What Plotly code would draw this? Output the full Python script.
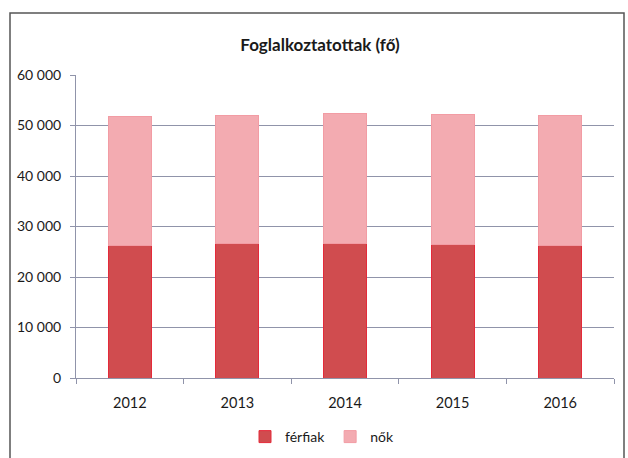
import plotly.graph_objects as go

# Foglalkoztatottak száma nemek szerint (fő)
years = ["2012", "2013", "2014", "2015", "2016"]
ferfiak = [26300, 26700, 26600, 26400, 26300]
nok = [25550, 25350, 25800, 25850, 25600]
y_ticks = [0, 10000, 20000, 30000, 40000, 50000, 60000]

FONT = "Lato, 'Open Sans', sans-serif"
GRID = "#9094aa"

# plot area in pixels (628 x 458 canvas)
W, H = 628, 458
ML, MR, MT, MB = 76, 14, 75, 80
PW, PH = W - ML - MR, H - MT - MB


def px_x(px):
    return (px - ML) / PW


def px_y(py):
    return (H - MB - py) / PH


fig = go.Figure()
fig.add_trace(go.Bar(
    x=years, y=ferfiak, name="férfiak",
    marker=dict(color="#d04c4f", line=dict(color="#e52a3a", width=1)),
))
fig.add_trace(go.Bar(
    x=years, y=nok, name="nők",
    marker=dict(color="#f3abb1", line=dict(color="#f29ca4", width=1)),
))

# outer chart frame
fig.add_shape(
    type="rect", xref="paper", yref="paper",
    x0=px_x(10), x1=px_x(624), y0=px_y(475), y1=px_y(13),
    line=dict(color="#555555", width=1.5), fillcolor="rgba(0,0,0,0)",
    layer="below",
)

fig.update_layout(
    width=W, height=H,
    margin=dict(l=ML, r=MR, t=MT, b=MB, autoexpand=False),
    paper_bgcolor="white", plot_bgcolor="white",
    barmode="stack", bargap=0.6,
    separators=", ",
    font=dict(family=FONT, size=14, color="#1a1a1a"),
    title=dict(
        text="<b>Foglalkoztatottak (fő)</b>",
        x=px_x(320), xref="paper", xanchor="center",
        y=1 - 45 / H, yref="container", yanchor="middle",
        font=dict(family=FONT, size=17, color="#1a1a1a"),
    ),
    legend=dict(
        orientation="h", x=px_x(322), xanchor="center",
        yref="container", y=1 - 437 / H, yanchor="middle",
        font=dict(family=FONT, size=14),
        itemwidth=30, traceorder="normal",
    ),
    showlegend=True,
)

fig.update_xaxes(
    showline=True, linecolor=GRID, linewidth=1,
    ticks="outside", tickson="boundaries", ticklen=5, tickcolor=GRID,
    showgrid=False, ticklabelstandoff=12, automargin=False,
    tickfont=dict(family=FONT, size=14.5),
)
fig.update_yaxes(
    range=[0, 60000], tickvals=y_ticks, tickformat=",d",
    showline=True, linecolor=GRID, linewidth=1,
    ticks="outside", ticklen=5, tickcolor=GRID,
    showgrid=True, gridcolor=GRID, gridwidth=1,
    ticklabelstandoff=6, zeroline=False, automargin=False,
    tickfont=dict(family=FONT, size=14),
)

fig.write_html("out.html")
